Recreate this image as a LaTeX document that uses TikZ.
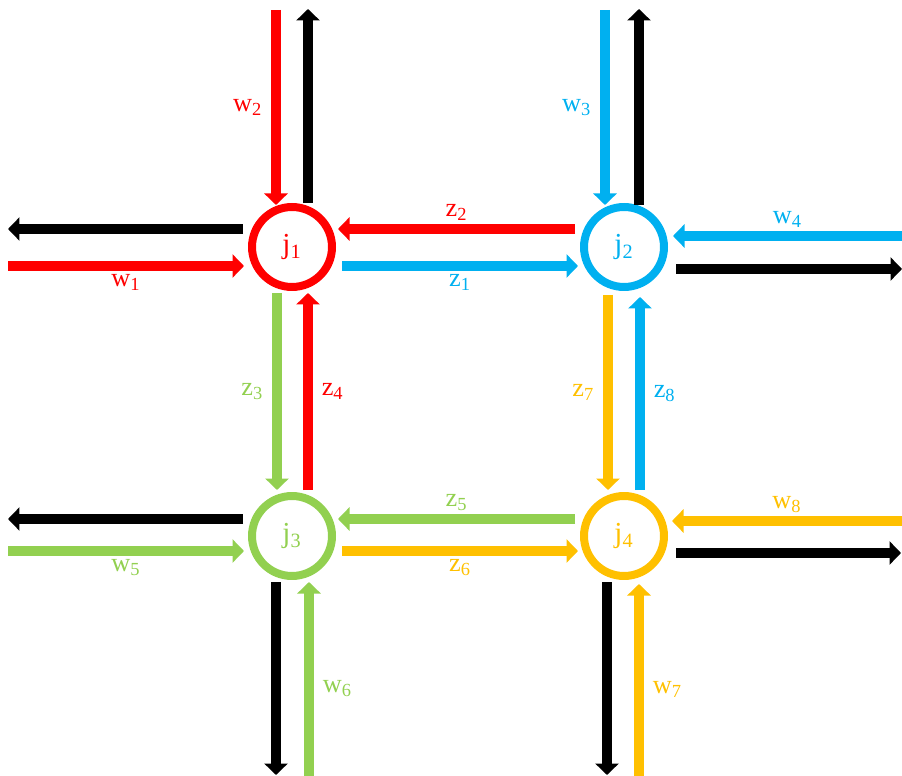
\documentclass[tikz,border=0pt]{standalone}
\usepackage{fontspec}
\setmainfont{Liberation Serif}
\usepackage{tikz}
\usetikzlibrary{calc, arrows.meta}

\definecolor{cred}{HTML}{FF0000}
\definecolor{cblue}{HTML}{00B0F0}
\definecolor{cgreen}{HTML}{92D050}
\definecolor{cyellow}{HTML}{FFC000}

% label with subscript
\newcommand{\sub}[2]{#1\textsubscript{#2}}

\begin{document}
\begin{tikzpicture}[x=0.02cm, y=-0.02cm,
  flow/.style={line width=2mm, -{Triangle[width=4.6mm, length=2.3mm]}},
  junc/.style={circle, draw, line width=1.6mm, minimum size=1.6cm, inner sep=0pt,
    font=\fontsize{16.5}{18}\selectfont},
  lbl/.style={font=\fontsize{15}{17}\selectfont, inner sep=2pt}]
  \useasboundingbox (0,0) rectangle (902,776);
  % Carrefours
  \node[junc, cred] (j1) at (292,247) {\sub{j}{1}};
  \node[junc, cblue] (j2) at (624,247) {\sub{j}{2}};
  \node[junc, cgreen] (j3) at (292,536) {\sub{j}{3}};
  \node[junc, cyellow] (j4) at (624,536) {\sub{j}{4}};
  % Flux autour de j1
  \draw[flow, cred] ($(j1)+(-16,-237)$) -- ($(j1)+(-16,-42)$)
    node[midway, left=3pt, lbl] {\sub{w}{2}};
  \draw[flow, black] ($(j1)+(16,-44)$) -- ($(j1)+(16,-238)$);
  \draw[flow, black] ($(j1)+(-49,-18)$) -- ($(j1)+(-284,-18)$);
  \draw[flow, cred] ($(j1)+(-284,19)$) -- ($(j1)+(-48,19)$)
    node[midway, below=0pt, lbl] {\sub{w}{1}};
  \draw[flow, cred] ($(j2)+(-49,-18)$) -- ($(j1)+(46,-18)$)
    node[midway, above=0pt, lbl] {\sub{z}{2}};
  \draw[flow, cblue] ($(j1)+(50,19)$) -- ($(j2)+(-46,19)$)
    node[midway, below=0pt, lbl] {\sub{z}{1}};
  % Flux autour de j2
  \draw[flow, cblue] ($(j2)+(-19,-237)$) -- ($(j2)+(-19,-42)$)
    node[midway, left=3pt, lbl] {\sub{w}{3}};
  \draw[flow, black] ($(j2)+(15,-42)$) -- ($(j2)+(15,-238)$);
  \draw[flow, cblue] ($(j2)+(278,-11)$) -- ($(j2)+(49,-11)$)
    node[midway, above=0pt, lbl] {\sub{w}{4}};
  \draw[flow, black] ($(j2)+(52,22)$) -- ($(j2)+(278,22)$);
  \draw[flow, cyellow] ($(j2)+(-16,48)$) -- ($(j4)+(-16,-46)$)
    node[midway, left=3pt, lbl] {\sub{z}{7}};
  \draw[flow, cblue] ($(j4)+(16,-46)$) -- ($(j2)+(16,50)$)
    node[midway, right=3pt, lbl] {\sub{z}{8}};
  % Flux autour de j3
  \draw[flow, cgreen] ($(j1)+(-15,46)$) -- ($(j3)+(-15,-46)$)
    node[midway, left=3pt, lbl] {\sub{z}{3}};
  \draw[flow, cred] ($(j3)+(16,-46)$) -- ($(j1)+(16,46)$)
    node[midway, right=3pt, lbl] {\sub{z}{4}};
  \draw[flow, black] ($(j3)+(-49,-17)$) -- ($(j3)+(-284,-17)$);
  \draw[flow, cgreen] ($(j3)+(-284,15)$) -- ($(j3)+(-48,15)$)
    node[midway, below=0pt, lbl] {\sub{w}{5}};
  \draw[flow, cgreen] ($(j4)+(-49,-17)$) -- ($(j3)+(46,-17)$)
    node[midway, above=0pt, lbl] {\sub{z}{5}};
  \draw[flow, cyellow] ($(j3)+(50,15)$) -- ($(j4)+(-46,15)$)
    node[midway, below=0pt, lbl] {\sub{z}{6}};
  \draw[flow, black] ($(j3)+(-16,46)$) -- ($(j3)+(-16,239)$);
  \draw[flow, cgreen] ($(j3)+(17,240)$) -- ($(j3)+(17,46)$)
    node[pos=0.45, right=3pt, lbl] {\sub{w}{6}};
  % Flux autour de j4
  \draw[flow, cyellow] ($(j4)+(278,-15)$) -- ($(j4)+(48,-15)$)
    node[midway, above=0pt, lbl] {\sub{w}{8}};
  \draw[flow, black] ($(j4)+(52,17)$) -- ($(j4)+(277,17)$);
  \draw[flow, black] ($(j4)+(-17,46)$) -- ($(j4)+(-17,239)$);
  \draw[flow, cyellow] ($(j4)+(15,240)$) -- ($(j4)+(15,48)$)
    node[pos=0.45, right=3pt, lbl] {\sub{w}{7}};
\end{tikzpicture}
\end{document}
